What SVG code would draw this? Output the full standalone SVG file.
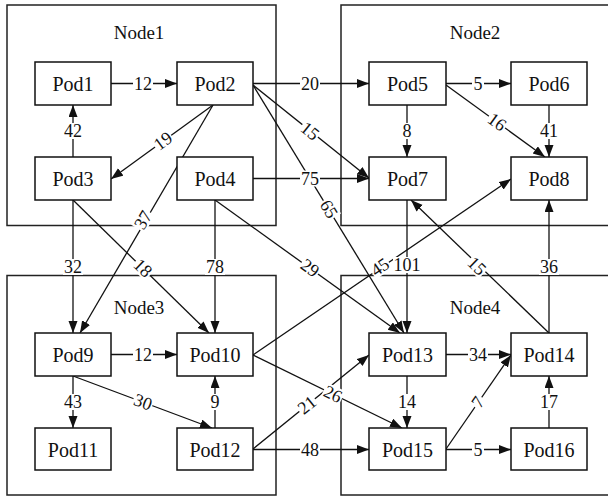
<svg xmlns="http://www.w3.org/2000/svg" width="608" height="497" viewBox="0 0 608 497">
<style>
.cl{fill:none;stroke:#222;stroke-width:1.5}
.pod rect{fill:#fff;stroke:#111;stroke-width:1.5}
text{font-family:"Liberation Serif","Times New Roman",serif;fill:#111;text-anchor:middle;dominant-baseline:central}
.pt{font-size:20px}
.nt{font-size:19px}
.e line{stroke:#111;stroke-width:1.3;marker-end:url(#ah)}
.lb rect{fill:#fff}
.lb text{font-size:18px}
</style>
<defs>
<marker id="ah" markerUnits="userSpaceOnUse" markerWidth="12" markerHeight="10" refX="12" refY="4.5" orient="auto">
<path d="M0,0 L12,4.5 L0,9 z" fill="#111"/>
</marker>
</defs>
<rect width="608" height="497" fill="#fff"/>
<g id="clusters">
<g id="node1"><rect class="cl" x="7" y="5" width="269" height="220.5"/><text class="nt" x="139" y="32">Node1</text></g>
<g id="node2"><rect class="cl" x="341" y="5" width="300" height="220.5"/><text class="nt" x="475" y="32">Node2</text></g>
<g id="node3"><rect class="cl" x="7" y="275.5" width="269" height="219.5"/><text class="nt" x="139" y="307">Node3</text></g>
<g id="node4"><rect class="cl" x="341" y="275.5" width="300" height="219.5"/><text class="nt" x="475" y="307">Node4</text></g>
</g>
<g id="connectors" class="e">
<line x1="111" y1="83.5" x2="177" y2="83.5"/>
<line x1="73" y1="157" x2="73" y2="105"/>
<line x1="213" y1="105" x2="111" y2="179"/>
<line x1="213" y1="105" x2="80" y2="333"/>
<line x1="253" y1="83.5" x2="369" y2="83.5"/>
<line x1="253" y1="85" x2="369" y2="178"/>
<line x1="253" y1="85" x2="404" y2="333"/>
<line x1="253" y1="178.5" x2="369" y2="178.5"/>
<line x1="215" y1="200" x2="215" y2="333"/>
<line x1="215" y1="200" x2="400" y2="333"/>
<line x1="73" y1="200" x2="73" y2="333"/>
<line x1="73" y1="200" x2="209" y2="333"/>
<line x1="446" y1="83.5" x2="511" y2="83.5"/>
<line x1="407" y1="105" x2="407" y2="157"/>
<line x1="446" y1="85" x2="545" y2="157"/>
<line x1="549" y1="105" x2="549" y2="157"/>
<line x1="253" y1="355" x2="511" y2="179"/>
<line x1="407" y1="200" x2="407" y2="333"/>
<line x1="549" y1="333" x2="411" y2="200"/>
<line x1="549" y1="333" x2="549" y2="200"/>
<line x1="111" y1="354.5" x2="177" y2="354.5"/>
<line x1="73" y1="376" x2="73" y2="428"/>
<line x1="73" y1="376" x2="212" y2="428"/>
<line x1="215" y1="428" x2="215" y2="376"/>
<line x1="253" y1="355" x2="402" y2="428"/>
<line x1="253" y1="449" x2="369" y2="355"/>
<line x1="253" y1="449.5" x2="369" y2="449.5"/>
<line x1="446" y1="354.5" x2="511" y2="354.5"/>
<line x1="407" y1="376" x2="407" y2="428"/>
<line x1="446" y1="449" x2="511" y2="355"/>
<line x1="446" y1="449.5" x2="511" y2="449.5"/>
<line x1="549" y1="428" x2="549" y2="376"/>
<g class="lb">
<g transform="translate(143,83.5)"><rect x="-10" y="-8" width="20" height="16"/><text>12</text></g>
<g transform="translate(73,131)"><rect x="-10" y="-8" width="20" height="16"/><text>42</text></g>
<g transform="translate(163,141) rotate(-36)"><rect x="-10" y="-8" width="20" height="16"/><text>19</text></g>
<g transform="translate(143,220) rotate(-60)"><rect x="-10" y="-8" width="20" height="16"/><text>37</text></g>
<g transform="translate(310,83.5)"><rect x="-10" y="-8" width="20" height="16"/><text>20</text></g>
<g transform="translate(310,131) rotate(39)"><rect x="-10" y="-8" width="20" height="16"/><text>15</text></g>
<g transform="translate(329,209) rotate(59)"><rect x="-10" y="-8" width="20" height="16"/><text>65</text></g>
<g transform="translate(310,178.5)"><rect x="-10" y="-8" width="20" height="16"/><text>75</text></g>
<g transform="translate(215,267)"><rect x="-10" y="-8" width="20" height="16"/><text>78</text></g>
<g transform="translate(310,268) rotate(36)"><rect x="-10" y="-8" width="20" height="16"/><text>29</text></g>
<g transform="translate(73,267)"><rect x="-10" y="-8" width="20" height="16"/><text>32</text></g>
<g transform="translate(143,268) rotate(44)"><rect x="-10" y="-8" width="20" height="16"/><text>18</text></g>
<g transform="translate(478,83.5)"><rect x="-6" y="-8" width="12" height="16"/><text>5</text></g>
<g transform="translate(407,131)"><rect x="-6" y="-8" width="12" height="16"/><text>8</text></g>
<g transform="translate(497,122) rotate(36)"><rect x="-10" y="-8" width="20" height="16"/><text>16</text></g>
<g transform="translate(549,131)"><rect x="-10" y="-8" width="20" height="16"/><text>41</text></g>
<g transform="translate(380,267) rotate(-34)"><rect x="-10" y="-8" width="20" height="16"/><text>45</text></g>
<g transform="translate(407,265)"><rect x="-14" y="-8" width="28" height="16"/><text>101</text></g>
<g transform="translate(477,266) rotate(44)"><rect x="-10" y="-8" width="20" height="16"/><text>15</text></g>
<g transform="translate(549,267)"><rect x="-10" y="-8" width="20" height="16"/><text>36</text></g>
<g transform="translate(143,354.5)"><rect x="-10" y="-8" width="20" height="16"/><text>12</text></g>
<g transform="translate(73,402)"><rect x="-10" y="-8" width="20" height="16"/><text>43</text></g>
<g transform="translate(143,402) rotate(20)"><rect x="-10" y="-8" width="20" height="16"/><text>30</text></g>
<g transform="translate(215,402)"><rect x="-6" y="-8" width="12" height="16"/><text>9</text></g>
<g transform="translate(333,394) rotate(26)"><rect x="-10" y="-8" width="20" height="16"/><text>26</text></g>
<g transform="translate(307,405) rotate(-39)"><rect x="-10" y="-8" width="20" height="16"/><text>21</text></g>
<g transform="translate(310,449.5)"><rect x="-10" y="-8" width="20" height="16"/><text>48</text></g>
<g transform="translate(478,354.5)"><rect x="-10" y="-8" width="20" height="16"/><text>34</text></g>
<g transform="translate(407,402)"><rect x="-10" y="-8" width="20" height="16"/><text>14</text></g>
<g transform="translate(478,402) rotate(-55)"><rect x="-6" y="-8" width="12" height="16"/><text>7</text></g>
<g transform="translate(478,449.5)"><rect x="-6" y="-8" width="12" height="16"/><text>5</text></g>
<g transform="translate(549,402)"><rect x="-10" y="-8" width="20" height="16"/><text>17</text></g>
</g>
</g>
<g id="pod1" class="pod"><rect x="35" y="62" width="76" height="43"/><text class="pt" x="73" y="84">Pod1</text></g>
<g id="pod2" class="pod"><rect x="177" y="62" width="76" height="43"/><text class="pt" x="215" y="84">Pod2</text></g>
<g id="pod3" class="pod"><rect x="35" y="157" width="76" height="43"/><text class="pt" x="73" y="179">Pod3</text></g>
<g id="pod4" class="pod"><rect x="177" y="157" width="76" height="43"/><text class="pt" x="215" y="179">Pod4</text></g>
<g id="pod5" class="pod"><rect x="369" y="62" width="77" height="43"/><text class="pt" x="407.5" y="84">Pod5</text></g>
<g id="pod6" class="pod"><rect x="511" y="62" width="76" height="43"/><text class="pt" x="549" y="84">Pod6</text></g>
<g id="pod7" class="pod"><rect x="369" y="157" width="77" height="43"/><text class="pt" x="407.5" y="179">Pod7</text></g>
<g id="pod8" class="pod"><rect x="511" y="157" width="76" height="43"/><text class="pt" x="549" y="179">Pod8</text></g>
<g id="pod9" class="pod"><rect x="35" y="333" width="76" height="43"/><text class="pt" x="73" y="355">Pod9</text></g>
<g id="pod10" class="pod"><rect x="177" y="333" width="76" height="43"/><text class="pt" x="215" y="355">Pod10</text></g>
<g id="pod11" class="pod"><rect x="35" y="428" width="76" height="42"/><text class="pt" x="73" y="450">Pod11</text></g>
<g id="pod12" class="pod"><rect x="177" y="428" width="76" height="42"/><text class="pt" x="215" y="450">Pod12</text></g>
<g id="pod13" class="pod"><rect x="369" y="333" width="77" height="43"/><text class="pt" x="407.5" y="355">Pod13</text></g>
<g id="pod14" class="pod"><rect x="511" y="333" width="76" height="43"/><text class="pt" x="549" y="355">Pod14</text></g>
<g id="pod15" class="pod"><rect x="369" y="428" width="77" height="42"/><text class="pt" x="407.5" y="450">Pod15</text></g>
<g id="pod16" class="pod"><rect x="511" y="428" width="76" height="42"/><text class="pt" x="549" y="450">Pod16</text></g>
</svg>
